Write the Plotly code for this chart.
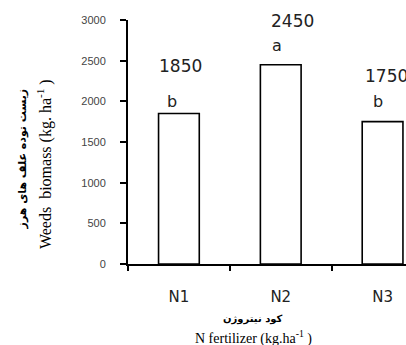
import plotly.graph_objects as go

categories = ["N1", "N2", "N3"]
biomass = [1850, 2450, 1750]
letters = ["b", "a", "b"]
value_labels = ["1850", "2450", "1750"]
y_ticks = [0, 500, 1000, 1500, 2000, 2500, 3000]

fig = go.Figure()
fig.add_trace(go.Bar(
    x=categories, y=biomass, width=0.4,
    marker=dict(color="white", line=dict(color="black", width=1.6)),
))

# label offsets (pixels) relative to bar top: (letter xshift, letter yshift, value xshift, value yshift)
offsets = [(-7, 1, 2, 36), (-4, 8, 12, 32), (-5, 9, 4, 34)]
for cat, v, let, lab, off in zip(categories, biomass, letters, value_labels, offsets):
    fig.add_annotation(x=cat, y=v, text=let, showarrow=False, yanchor="bottom",
                       xshift=off[0], yshift=off[1],
                       font=dict(family="DejaVu Sans", size=16, color="#222"))
    fig.add_annotation(x=cat, y=v, text=lab, showarrow=False, yanchor="bottom",
                       xshift=off[2], yshift=off[3],
                       font=dict(family="DejaVu Sans", size=17, color="#222"))

# axis titles
fig.add_annotation(xref="paper", yref="paper", x=-0.38, y=0.43, xanchor="center", yanchor="middle",
                   text="<b>زیست توده علف های هرز</b>", textangle=-90, showarrow=False,
                   font=dict(family="DejaVu Sans", size=11, color="black"))
fig.add_annotation(xref="paper", yref="paper", x=-0.298, y=0.41, xanchor="center", yanchor="middle",
                   text="Weeds  biomass (kg. ha<sup>-1</sup> )", textangle=-90, showarrow=False,
                   font=dict(family="Liberation Serif", size=16, color="black"))
fig.add_annotation(xref="paper", yref="paper", x=0.45, y=-0.225, xanchor="center", yanchor="middle",
                   text="<b>کود نیتروژن</b>", showarrow=False,
                   font=dict(family="DejaVu Sans", size=10, color="black"))
fig.add_annotation(xref="paper", yref="paper", x=0.45, y=-0.30, xanchor="center", yanchor="middle",
                   text="N fertilizer (kg.ha<sup>-1</sup> )", showarrow=False,
                   font=dict(family="Liberation Serif", size=14, color="black"))

fig.update_layout(
    template="none",
    width=406, height=345,
    margin=dict(l=128, r=0, t=20, b=81, autoexpand=False),
    plot_bgcolor="white", paper_bgcolor="white",
    showlegend=False,
    xaxis=dict(
        type="category", range=[-0.5, 2.23], automargin=False,
        showline=True, linecolor="black", linewidth=2,
        ticks="outside", tickson="boundaries", ticklen=5, tickwidth=2, tickcolor="black",
        tickfont=dict(family="DejaVu Sans", size=15, color="#222"),
        ticklabelstandoff=18,
        showgrid=False, zeroline=False,
    ),
    yaxis=dict(
        range=[0, 3000], tickvals=y_ticks, automargin=False,
        showline=True, linecolor="black", linewidth=2,
        ticks="outside", ticklen=6, tickwidth=2, tickcolor="black",
        tickfont=dict(family="Liberation Sans", size=11, color="#444"),
        ticklabelstandoff=12,
        showgrid=False, zeroline=False,
    ),
)

fig.write_html("out.html", config={"displayModeBar": False},
               post_script="document.body.style.margin='0px';document.body.style.overflow='hidden';")
